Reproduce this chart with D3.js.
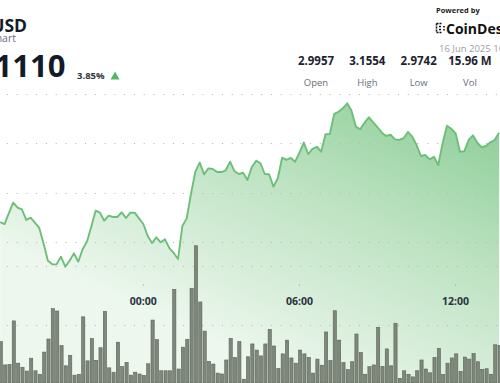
<!DOCTYPE html>
<html>
<head>
<meta charset="utf-8">
<style>
  body { margin: 0; background: #fff; }
  svg { display: block; font-family: "Open Sans", "Noto Sans", sans-serif; }

  .grid line {
      stroke: #b4b4b4;
      stroke-width: 1;
      stroke-dasharray: 1, 8.78;
  }

  .price-line {
      fill: none;
      stroke: #6cbf79;
      stroke-width: 1.9;
      stroke-linejoin: round;
  }

  .bar {
      fill: #7f877b;
      stroke: #5b6358;
      stroke-width: 0.6;
  }

  .tick-label {
      font-size: 10.5px;
      font-weight: 700;
      fill: #2b3142;
  }
</style>
</head>
<body>
<svg width="500" height="383"></svg>

<script src="https://d3js.org/d3.v7.min.js"></script>
<script>

// 10-minute points, first one is 15 Jun 18:30 UTC
var startTime = Date.UTC(2025, 5, 15, 18, 30);
var stepMinutes = 10;

var prices = [
  3.0561, 3.0545, 3.0634, 3.0718, 3.0679, 3.0663, 3.0578, 3.0596, 3.0556, 3.0513,
  3.0387, 3.0247, 3.0218, 3.0218, 3.0280, 3.0199, 3.0247, 3.0307, 3.0239, 3.0340,
  3.0402, 3.0523, 3.0653, 3.0637, 3.0572, 3.0613, 3.0602, 3.0602, 3.0640, 3.0594,
  3.0637, 3.0637, 3.0591, 3.0545, 3.0448, 3.0391, 3.0437, 3.0397, 3.0421, 3.0350,
  3.0310, 3.0261, 3.0529, 3.0591, 3.0794, 3.0970, 3.1043, 3.0948, 3.0997, 3.0991,
  3.0967, 3.0967, 3.0981, 3.1051, 3.0975, 3.0951, 3.0961, 3.0902, 3.1005, 3.1059,
  3.1038, 3.0951, 3.0949, 3.0848, 3.0916, 3.1083, 3.1065, 3.1081, 3.1051, 3.1124,
  3.1206, 3.1113, 3.1154, 3.1172, 3.1132, 3.1273, 3.1275, 3.1438, 3.1456, 3.1484,
  3.1525, 3.1465, 3.1335, 3.1314, 3.1367, 3.1411, 3.1370, 3.1330, 3.1286, 3.1259,
  3.1270, 3.1232, 3.1227, 3.1241, 3.1292, 3.1254, 3.1186, 3.1097, 3.1105, 3.1070,
  3.1091, 3.1024, 3.1200, 3.1343, 3.1318, 3.1281, 3.1132, 3.1135, 3.1227, 3.1265,
  3.1205, 3.1168, 3.1178, 3.1208, 3.1227, 3.1286
];

// volume per bar, thousands
var volumes = [
  142, 62, 64, 213, 68, 54, 41, 85, 42, 30,
  106, 151, 255, 247, 128, 59, 95, 27, 30, 227,
  76, 152, 78, 121, 246, 52, 37, 140, 56, 71,
  27, 37, 31, 26, 66, 216, 149, 42, 42, 42,
  321, 48, 123, 150, 325, 471, 278, 178, 74, 65,
  34, 31, 79, 153, 87, 142, 13, 90, 134, 113,
  93, 134, 184, 127, 50, 100, 147, 86, 68, 113,
  100, 88, 34, 82, 61, 175, 77, 248, 147, 70,
  46, 73, 168, 105, 30, 56, 62, 191, 57, 117,
  59, 205, 16, 42, 30, 21, 42, 79, 48, 35,
  88, 119, 29, 68, 86, 100, 40, 89, 82, 101,
  73, 47, 49, 30, 131, 129
];

var priceTicks = [3.04, 3.08, 3.12, 3.16];
var volumeTicks = [200, 400];

var headerStats = [
  { value: "2.9957", label: "Open" },
  { value: "3.1554", label: "High" },
  { value: "2.9742", label: "Low" },
  { value: "15.96 M", label: "Vol" }
];

var svg = d3.select("svg"),
    width = +svg.attr("width"),
    height = +svg.attr("height");

var times = prices.map(function(d, i) {
  return new Date(startTime + i * stepMinutes * 60000);
});

var x = d3.scaleUtc()
    .domain([times[0], times[times.length - 1]])
    .range([0.2, 499]);

var yPrice = d3.scaleLinear()
    .domain([3.04, 3.16])
    .range([241.9, 94]);

var yVol = d3.scaleLinear()
    .domain([0, 400])
    .range([383, 266.4]);

// gradient for the area under the line
var defs = svg.append("defs");
var grad = defs.append("linearGradient")
    .attr("id", "areaFill")
    .attr("gradientUnits", "userSpaceOnUse")
    .attr("x1", 430).attr("y1", 95)
    .attr("x2", 300).attr("y2", 383);
grad.append("stop").attr("offset", 0).attr("stop-color", "#8fcf9a");
grad.append("stop").attr("offset", 0.45).attr("stop-color", "#bfe3c3");
grad.append("stop").attr("offset", 1).attr("stop-color", "#edf7ee");

var area = d3.area()
    .x(function(d, i) { return x(times[i]); })
    .y0(height)
    .y1(function(d) { return yPrice(d); });

var line = d3.line()
    .x(function(d, i) { return x(times[i]); })
    .y(function(d) { return yPrice(d); });

svg.append("path")
    .datum(prices)
    .attr("d", area)
    .style("fill", "url(#areaFill)");

// dotted grid lines
var grid = svg.append("g").attr("class", "grid");
grid.selectAll(".pgrid")
    .data(priceTicks)
    .enter().append("line")
    .attr("x1", 6.8).attr("x2", width)
    .attr("y1", function(d) { return Math.round(yPrice(d)) + 0.5; })
    .attr("y2", function(d) { return Math.round(yPrice(d)) + 0.5; });
grid.selectAll(".vgrid")
    .data(volumeTicks)
    .enter().append("line")
    .attr("x1", 6.8).attr("x2", width)
    .attr("y1", function(d) { return Math.round(yVol(d)) + 0.5; })
    .attr("y2", function(d) { return Math.round(yVol(d)) + 0.5; });

// volume bars
svg.append("g").selectAll(".bar")
    .data(volumes)
    .enter().append("rect")
    .attr("class", "bar")
    .attr("x", function(d, i) { return x(times[i]) - 1.0; })
    .attr("width", 3.2)
    .attr("y", function(d) { return yVol(d); })
    .attr("height", function(d) { return yVol(0) - yVol(d); });

svg.append("path")
    .datum(prices)
    .attr("class", "price-line")
    .attr("d", line);

// time axis
var xTicks = x.ticks(d3.utcHour.every(6));
var fmt = d3.utcFormat("%H:%M");
var axis = svg.append("g");
axis.selectAll("circle")
    .data(xTicks)
    .enter().append("circle")
    .attr("cx", function(d) { return x(d); })
    .attr("cy", 285)
    .attr("r", 0.6)
    .style("fill", "#888");
axis.selectAll("text")
    .data(xTicks)
    .enter().append("text")
    .attr("class", "tick-label")
    .attr("x", function(d) { return x(d); })
    .attr("y", 304.5)
    .attr("text-anchor", "middle")
    .text(function(d) { return fmt(d); });

// header
var header = svg.append("g");
header.append("text")
    .attr("x", 27).attr("y", 32)
    .attr("text-anchor", "end")
    .style("font-size", "17.5px").style("font-weight", 700).style("fill", "#131a2a")
    .text("XRP-USD");
header.append("text")
    .attr("x", 16).attr("y", 42)
    .attr("text-anchor", "end")
    .style("font-size", "10.5px").style("fill", "#6a6f78")
    .text("Price Chart");
header.append("text")
    .attr("x", 65.5).attr("y", 77)
    .attr("text-anchor", "end")
    .style("font-size", "31px").style("font-weight", 700).style("fill", "#131a2a")
    .text("3.1110");
header.append("text")
    .attr("x", 77).attr("y", 78.5)
    .style("font-size", "9.5px").style("font-weight", 700).style("fill", "#2e3440")
    .text("3.85%");
header.append("path")
    .attr("d", "M110.5,79.5 L119.5,79.5 L115,71.5 Z")
    .style("fill", "#55b765");

var statX = d3.scalePoint()
    .domain(headerStats.map(function(d) { return d.label; }))
    .range([316, 470]);
var stats = header.selectAll(".stat")
    .data(headerStats)
    .enter().append("g")
    .attr("transform", function(d) { return "translate(" + statX(d.label) + ",0)"; });
stats.append("text")
    .attr("y", 64.5)
    .attr("text-anchor", "middle")
    .style("font-size", "11.5px").style("font-weight", 700).style("fill", "#1d2230")
    .text(function(d) { return d.value; });
stats.append("text")
    .attr("y", 85.5)
    .attr("text-anchor", "middle")
    .style("font-size", "9.5px").style("fill", "#6a6f78")
    .text(function(d) { return d.label; });

// powered by block
header.append("text")
    .attr("x", 436).attr("y", 13)
    .style("font-size", "7.5px").style("font-weight", 700).style("fill", "#222")
    .text("Powered by");
var logo = header.append("g").attr("transform", "translate(436,23)");
logo.append("path")
    .attr("d", "M0.5,0.5 H6 M0.5,0.5 V9.5 M0.5,9.5 H6 M3,3.5 H5 M3,6.5 H5 M8,3 V4.5 M8,6 V7.5")
    .style("fill", "none").style("stroke", "#111").style("stroke-width", 1.6)
    .style("stroke-dasharray", "2,1");
header.append("text")
    .attr("x", 446).attr("y", 33.5)
    .style("font-size", "14px").style("font-weight", 700).style("fill", "#111")
    .text("CoinDesk");
header.append("text")
    .attr("x", 439).attr("y", 51.5)
    .style("font-size", "9.5px").style("fill", "#9a9da3")
    .text("16 Jun 2025 16:40 UTC");

</script>
</body>
</html>
